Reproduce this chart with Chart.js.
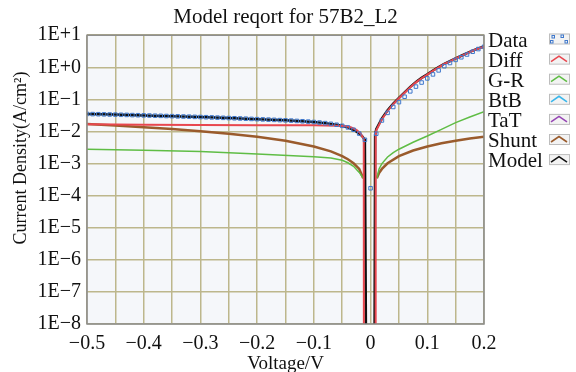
<!DOCTYPE html>
<html>
<head>
<meta charset="utf-8">
<script src="https://cdn.jsdelivr.net/npm/chart.js@4.4.0/dist/chart.umd.min.js"></script>
<style>
body { margin: 0; background: #fff; }
</style>
</head>
<body>
<canvas id="grafico" width="576" height="372"></canvas>
<script>
// Measured J-V points (|J| in A/cm2)
const dataV = [-0.50,-0.49,-0.48,-0.47,-0.46,-0.45,-0.44,-0.43,-0.42,-0.41,
               -0.40,-0.39,-0.38,-0.37,-0.36,-0.35,-0.34,-0.33,-0.32,-0.31,
               -0.30,-0.29,-0.28,-0.27,-0.26,-0.25,-0.24,-0.23,-0.22,-0.21,
               -0.20,-0.19,-0.18,-0.17,-0.16,-0.15,-0.14,-0.13,-0.12,-0.11,
               -0.10,-0.09,-0.08,-0.07,-0.06,-0.05,-0.04,-0.03,-0.02,-0.01,
               0,
               0.01,0.02,0.03,0.04,0.05,0.06,0.07,0.08,0.09,0.10,
               0.11,0.12,0.13,0.14,0.15,0.16,0.17,0.18,0.19,0.20];
const dataJ = [0.0352,0.0348,0.0345,0.0342,0.0338,0.0335,0.0331,0.0328,0.0324,0.0321,
               0.0317,0.0314,0.0310,0.0307,0.0303,0.0300,0.0296,0.0292,0.0289,0.0285,
               0.0282,0.0278,0.0274,0.0270,0.0266,0.0262,0.0258,0.0254,0.0250,0.0246,
               0.0242,0.0238,0.0234,0.0230,0.0226,0.0222,0.0218,0.0213,0.0208,0.0203,
               0.0197,0.0190,0.0182,0.0173,0.0162,0.0150,0.0134,0.0113,0.0086,0.0055,
               0.00017,
               0.0085,0.022,0.038,0.058,0.082,0.121,0.178,0.25,0.335,0.45,
               0.60,0.80,1.08,1.36,1.70,2.05,2.50,3.05,3.70,4.35];

// Diffusion component (drops to ~0 around V=0)
const diffV = [-0.50,-0.40,-0.30,-0.20,-0.10,-0.06,-0.045,-0.035,-0.025,-0.018,-0.012,-0.011,
               0.0088,0.009,0.01,0.02,0.03,0.04,0.05,0.06,0.07,0.08,0.09,0.10,
               0.11,0.12,0.13,0.14,0.15,0.16,0.17,0.18,0.19,0.20];
const diffJ = [0.0168,0.0163,0.0160,0.0157,0.0155,0.0152,0.0147,0.0135,0.0112,0.0088,0.0058,1e-30,
               1e-30,0.0080,0.0108,0.0240,0.0435,0.0715,0.108,0.161,0.238,0.338,0.457,0.590,
               0.78,1.00,1.27,1.53,1.88,2.26,2.71,3.27,3.85,4.42];

// Generation-recombination component (null = no point at V=0)
const grV = [-0.50,-0.40,-0.30,-0.20,-0.10,-0.07,-0.05,-0.04,-0.03,-0.02,-0.013,
             0,
             0.011,0.015,0.02,0.03,0.04,0.05,0.075,0.10,0.125,0.15,0.175,0.20];
const grJ = [0.00279,0.0026,0.00237,0.0020,0.00162,0.00148,0.00126,0.00106,0.00082,0.00053,0.00035,
             null,
             0.00035,0.00068,0.00100,0.00160,0.00220,0.0028,0.0046,0.0072,0.0116,0.0188,0.0283,0.0413];

// Band-to-band and trap-assisted tunnelling (below the plotted range)
const btbV = [];
const btbJ = [];
const tatV = [];
const tatJ = [];

// Shunt component
const shuntV = [-0.50,-0.45,-0.40,-0.35,-0.30,-0.25,-0.20,-0.15,-0.10,-0.07,-0.05,-0.04,-0.03,-0.02,-0.013,
                0,
                0.011,0.015,0.02,0.03,0.05,0.075,0.10,0.125,0.15,0.175,0.20];
const shuntJ = [0.0170,0.0153,0.0136,0.0119,0.0102,0.0085,0.0068,0.0051,0.0034,0.0024,0.0017,0.00136,0.00102,0.00068,0.00035,
                null,
                0.00035,0.00051,0.00068,0.00102,0.0017,0.00255,0.0034,0.0043,0.0051,0.0060,0.0068];

// Total model
const modelV = [-0.50,-0.45,-0.40,-0.35,-0.30,-0.25,-0.20,-0.15,-0.10,-0.08,-0.06,-0.05,-0.04,-0.03,-0.02,-0.015,-0.01,-0.007,
                0.0065,0.008,0.01,0.02,0.03,0.04,0.05,0.06,0.07,0.08,0.09,0.10,
                0.11,0.12,0.13,0.14,0.15,0.16,0.17,0.18,0.19,0.20];
const modelJ = [0.0352,0.0335,0.0317,0.0300,0.0282,0.0262,0.0242,0.0222,0.0197,0.0182,0.0162,0.0150,0.0134,0.0113,0.0086,0.0072,0.0055,1e-12,
                1e-12,0.0079,0.0118,0.0257,0.0457,0.0741,0.112,0.166,0.245,0.347,0.468,0.603,
                0.794,1.02,1.29,1.55,1.91,2.29,2.75,3.31,3.89,4.47];

const yTicks = [1e1,1e0,1e-1,1e-2,1e-3,1e-4,1e-5,1e-6,1e-7,1e-8];

const pts = (vs, js) => vs.map((v, i) => ({ x: v, y: js[i] }));
const serif = '"Liberation Serif", "Times New Roman", serif';

function linea(label, vs, js, color, width) {
    return {
        label: label,
        data: pts(vs, js),
        borderColor: color,
        backgroundColor: color,
        borderWidth: width,
        pointRadius: 0,
        tension: 0,
        spanGaps: false
    };
}

// plot background, frame, axis titles and the legend at the right
const extras = {
    id: 'extras',
    beforeDraw(chart) {
        const { ctx, chartArea: a } = chart;
        ctx.save();
        ctx.fillStyle = '#f5f7fa';
        ctx.fillRect(a.left, a.top, a.right - a.left, a.bottom - a.top);
        ctx.restore();
    },
    afterDraw(chart) {
        const { ctx, chartArea: a } = chart;
        ctx.save();
        ctx.strokeStyle = '#8c8c8c';
        ctx.lineWidth = 1.5;
        ctx.strokeRect(a.left, a.top, a.right - a.left, a.bottom - a.top);

        // axis titles
        ctx.fillStyle = '#111';
        ctx.font = '19px ' + serif;
        ctx.textAlign = 'center';
        ctx.textBaseline = 'alphabetic';
        ctx.fillText('Voltage/V', (a.left + a.right) / 2, 369);
        ctx.save();
        ctx.translate(21, 158);
        ctx.rotate(-Math.PI / 2);
        ctx.textBaseline = 'middle';
        ctx.font = '18px ' + serif;
        ctx.fillText('Current Density(A/cm\u00b2)', 0, 0);
        ctx.restore();

        ctx.font = '21px ' + serif;
        ctx.textBaseline = 'alphabetic';
        ctx.textAlign = 'left';
        chart.data.datasets.forEach((ds, i) => {
            const base = 46.5 + i * 20.1;
            ctx.fillStyle = '#111';
            ctx.fillText(ds.label, 488, base);

            const bx = 549, by = base - 13, bw = 20, bh = 10;
            ctx.fillStyle = '#f3f3f3';
            ctx.fillRect(bx, by, bw, bh);
            ctx.strokeStyle = '#bdbdbd';
            ctx.lineWidth = 1;
            ctx.strokeRect(bx + 0.5, by + 0.5, bw, bh);
            if (ds.showLine === false) {
                ctx.strokeStyle = ds.borderColor;
                [[3, 2], [12, 1.5], [1.5, 7], [16, 7]].forEach(p => {
                    ctx.strokeRect(bx + p[0], by + p[1], 2.5, 2.5);
                });
            } else {
                ctx.strokeStyle = ds.borderColor;
                ctx.lineWidth = 1.6;
                ctx.beginPath();
                ctx.moveTo(bx + 2, by + 8);
                ctx.lineTo(bx + 10, by + 2.5);
                ctx.lineTo(bx + 18, by + 8);
                ctx.stroke();
            }
        });
        ctx.restore();
    }
};

const ctx = document.getElementById('grafico').getContext('2d');
new Chart(ctx, {
    type: 'line',
    data: {
        datasets: [
            {
                label: 'Data',
                data: pts(dataV, dataJ),
                showLine: false,
                pointStyle: 'rect',
                pointRadius: 2.5,
                borderWidth: 1,
                borderColor: '#3f78cc',
                backgroundColor: 'rgba(0,0,0,0)'
            },
            linea('Diff', diffV, diffJ, '#e8474f', 2),
            linea('G-R', grV, grJ, '#5fbd45', 1.5),
            linea('BtB', btbV, btbJ, '#3bb6ea', 1.5),
            linea('TaT', tatV, tatJ, '#9646b4', 1.5),
            linea('Shunt', shuntV, shuntJ, '#9a5b2c', 2.5),
            linea('Model', modelV, modelJ, '#111111', 2.5)
        ]
    },
    options: {
        responsive: false,
        animation: false,
        devicePixelRatio: 1,
        layout: { padding: { left: 0, right: 92, top: 0, bottom: 0 } },
        plugins: {
            legend: { display: false },
            tooltip: { enabled: false },
            title: {
                display: true,
                text: 'Model reqort for 57B2_L2',
                color: '#111',
                fullSize: false,
                font: { family: serif, size: 21, weight: 'normal', lineHeight: 1.2 },
                padding: { top: 5, bottom: 5 }
            }
        },
        scales: {
            x: {
                type: 'linear',
                min: -0.5,
                max: 0.2,
                afterFit: (scale) => { scale.height = 48; },
                grid: { color: '#bdb78c', lineWidth: 1.5, drawTicks: false },
                border: { display: false },
                ticks: {
                    stepSize: 0.05,
                    autoSkip: false,
                    maxRotation: 0,
                    padding: 8,
                    color: '#111',
                    font: { family: serif, size: 20 },
                    callback: (value) => {
                        const c = Math.round(value * 100);
                        if (c % 10 !== 0) return '';
                        if (c === 0) return '0';
                        return (c / 100).toFixed(1).replace('-', '\u2212');
                    }
                }
            },
            y: {
                type: 'logarithmic',
                min: 1e-8,
                max: 10,
                afterFit: (scale) => { scale.width = 87; },
                afterBuildTicks: (scale) => { scale.ticks = yTicks.map(v => ({ value: v })); },
                grid: { color: '#bdb78c', lineWidth: 1.5, drawTicks: false },
                border: { display: false },
                ticks: {
                    padding: 6,
                    color: '#111',
                    font: { family: serif, size: 20 },
                    callback: (value) => {
                        const e = Math.round(Math.log10(value));
                        return '1E' + (e >= 0 ? '+' : '\u2212') + Math.abs(e);
                    }
                }
            }
        }
    },
    plugins: [extras]
});
</script>
</body>
</html>
